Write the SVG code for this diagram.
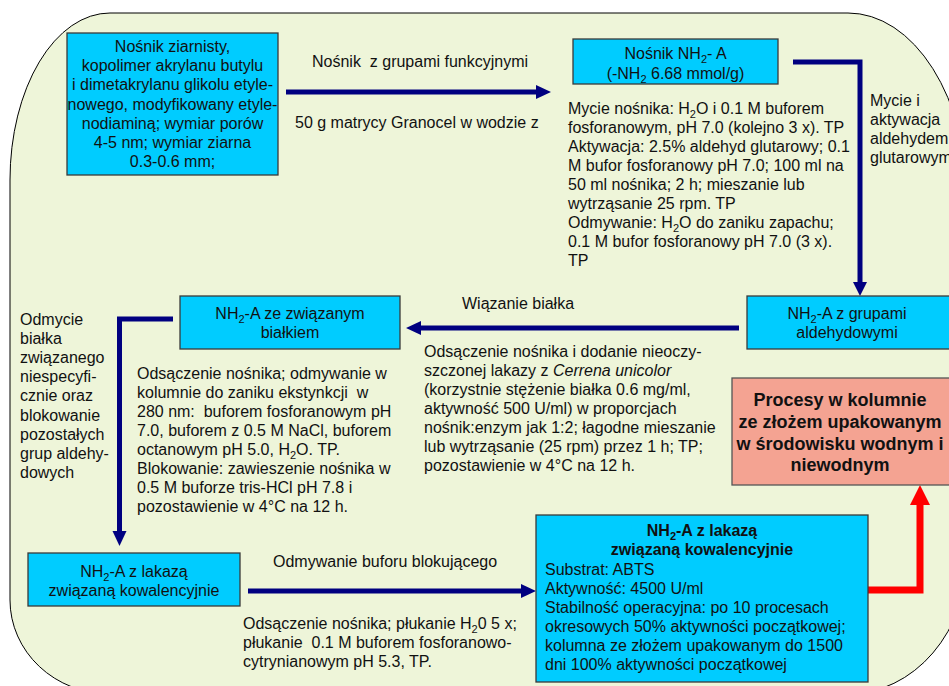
<svg xmlns="http://www.w3.org/2000/svg" width="949" height="686" viewBox="0 0 949 686">
  <style>
    text { font-family: "Liberation Sans", Arial, sans-serif; font-size: 16px; fill: #111; white-space: pre; }
    .c { text-anchor: middle; }
    .b { font-weight: bold; }
    .big { font-size: 18px; }
    .sub { font-size: 11px; }
    .box { fill: #00CCFF; stroke: #3a3a3a; stroke-width: 1.3; }
    .pink { fill: #F4A392; stroke: #555; stroke-width: 1.3; }
    .nav { stroke: #000080; stroke-width: 5; fill: none; stroke-linejoin: miter; }
    .navhead { fill: #000080; }
    .red { stroke: #FF0000; stroke-width: 7; fill: none; stroke-linejoin: miter; }
    .redhead { fill: #FF0000; }
  </style>

  <rect width="949" height="686" fill="#ffffff"/>
  <!-- rounded panel behind the flow -->
  <path d="M110,13 H848 A120,190 0 0 1 968,203 V554 A120,140 0 0 1 848,694 H110 A100,94 0 0 1 10,600 V180 A100,167 0 0 1 110,13 Z" fill="#EEF5D9" stroke="#000" stroke-width="1"/>

  <!-- connectors -->
  <g id="connectors">
    <path class="nav" d="M286,92 H537"/>
    <polygon class="navhead" points="536,85 551,92 536,99"/>

    <path class="nav" d="M793,62 H860 V283"/>
    <polygon class="navhead" points="853,282 867,282 860,296"/>

    <path class="nav" d="M739,328 H420"/>
    <polygon class="navhead" points="421,321 406,328 421,335"/>

    <path class="nav" d="M173,319 H119.5 V532"/>
    <polygon class="navhead" points="112.5,531 126.5,531 119.5,546"/>

    <path class="nav" d="M248,591 H522"/>
    <polygon class="navhead" points="521,584 536,591 521,598"/>

    <path class="red" d="M868,590 H920 V504"/>
    <polygon class="redhead" points="910,505 930,505 920,485"/>
  </g>

  <!-- edge labels -->
  <g id="labels">
    <text x="312" y="67">Nośnik  z grupami funkcyjnymi</text>
    <text x="295" y="128">50 g matrycy Granocel w wodzie z</text>

    <text x="568" y="113.5">Mycie nośnika: H<tspan class="sub" dy="4">2</tspan><tspan dy="-4">O i 0.1 M buforem</tspan></text>
    <text x="568" y="132.6">fosforanowym, pH 7.0 (kolejno 3 x). TP</text>
    <text x="568" y="151.7">Aktywacja: 2.5% aldehyd glutarowy; 0.1</text>
    <text x="568" y="170.8">M bufor fosforanowy pH 7.0; 100 ml na</text>
    <text x="568" y="189.9">50 ml nośnika; 2 h; mieszanie lub</text>
    <text x="568" y="209">wytrząsanie 25 rpm. TP</text>
    <text x="568" y="228.1">Odmywanie: H<tspan class="sub" dy="4">2</tspan><tspan dy="-4">O do zaniku zapachu;</tspan></text>
    <text x="568" y="247.2">0.1 M bufor fosforanowy pH 7.0 (3 x).</text>
    <text x="568" y="266.3">TP</text>

    <text x="870" y="105.5">Mycie i</text>
    <text x="870" y="124.5">aktywacja</text>
    <text x="870" y="143.5">aldehydem</text>
    <text x="870" y="162.5">glutarowym</text>

    <text x="462" y="309">Wiązanie białka</text>
    <text x="424" y="356.5">Odsączenie nośnika i dodanie nieoczy-</text>
    <text x="424" y="375.6">szczonej lakazy z <tspan font-style="italic">Cerrena unicolor</tspan></text>
    <text x="424" y="394.7">(korzystnie stężenie białka 0.6 mg/ml,</text>
    <text x="424" y="413.8">aktywność 500 U/ml) w proporcjach</text>
    <text x="424" y="432.9">nośnik:enzym jak 1:2; łagodne mieszanie</text>
    <text x="424" y="452">lub wytrząsanie (25 rpm) przez 1 h; TP;</text>
    <text x="424" y="471.1">pozostawienie w 4°C na 12 h.</text>

    <text x="20" y="324.5">Odmycie</text>
    <text x="20" y="343.7">białka</text>
    <text x="20" y="362.9">związanego</text>
    <text x="20" y="382.1">niespecyfi-</text>
    <text x="20" y="401.3">cznie oraz</text>
    <text x="20" y="420.5">blokowanie</text>
    <text x="20" y="439.7">pozostałych</text>
    <text x="20" y="458.9">grup aldehy-</text>
    <text x="20" y="478.1">dowych</text>

    <text x="137" y="378.5">Odsączenie nośnika; odmywanie w</text>
    <text x="137" y="397.6">kolumnie do zaniku ekstynkcji  w</text>
    <text x="137" y="416.7">280 nm:  buforem fosforanowym pH</text>
    <text x="137" y="435.8">7.0, buforem z 0.5 M NaCl, buforem</text>
    <text x="137" y="454.9">octanowym pH 5.0, H<tspan class="sub" dy="4">2</tspan><tspan dy="-4">O. TP.</tspan></text>
    <text x="137" y="474">Blokowanie: zawieszenie nośnika w</text>
    <text x="137" y="493.1">0.5 M buforze tris-HCl pH 7.8 i</text>
    <text x="137" y="512.2">pozostawienie w 4°C na 12 h.</text>

    <text x="273" y="566.5">Odmywanie buforu blokującego</text>
    <text x="243" y="629">Odsączenie nośnika; płukanie H<tspan class="sub" dy="4">2</tspan><tspan dy="-4">0 5 x;</tspan></text>
    <text x="243" y="648">płukanie  0.1 M buforem fosforanowo-</text>
    <text x="243" y="667">cytrynianowym pH 5.3, TP.</text>
  </g>

  <!-- nodes -->
  <g id="node-carrier">
    <rect class="box" x="67" y="33" width="211" height="142"/>
    <text class="c" x="172.5" y="52">Nośnik ziarnisty,</text>
    <text class="c" x="172.5" y="71.2">kopolimer akrylanu butylu</text>
    <text class="c" x="172.5" y="90.4">i dimetakrylanu glikolu etyle-</text>
    <text class="c" x="172.5" y="109.6">nowego, modyfikowany etyle-</text>
    <text class="c" x="172.5" y="128.8">nodiaminą; wymiar porów</text>
    <text class="c" x="172.5" y="148">4-5 nm; wymiar ziarna</text>
    <text class="c" x="172.5" y="167.2">0.3-0.6 mm;</text>
  </g>

  <g id="node-nh2a">
    <rect class="box" x="573" y="39" width="205" height="45"/>
    <text class="c" x="675.5" y="58.5">Nośnik NH<tspan class="sub" dy="4">2</tspan><tspan dy="-4">- A</tspan></text>
    <text class="c" x="675.5" y="78.5">(-NH<tspan class="sub" dy="4">2</tspan><tspan dy="-4"> 6.68 mmol/g)</tspan></text>
  </g>

  <g id="node-aldehyde">
    <rect class="box" x="747" y="296" width="210" height="53"/>
    <text class="c" x="847" y="318.5">NH<tspan class="sub" dy="4">2</tspan><tspan dy="-4">-A z grupami</tspan></text>
    <text class="c" x="847" y="337.5">aldehydowymi</text>
  </g>

  <g id="node-bound-protein">
    <rect class="box" x="180" y="296" width="220" height="53"/>
    <text class="c" x="290" y="318.5">NH<tspan class="sub" dy="4">2</tspan><tspan dy="-4">-A ze związanym</tspan></text>
    <text class="c" x="290" y="337.5">białkiem</text>
  </g>

  <g id="node-column">
    <rect class="pink" x="732" y="378" width="225" height="107"/>
    <text class="c b big" x="840" y="406">Procesy w kolumnie</text>
    <text class="c b big" x="840" y="428">ze złożem upakowanym</text>
    <text class="c b big" x="840" y="449.5">w środowisku wodnym i</text>
    <text class="c b big" x="840" y="471">niewodnym</text>
  </g>

  <g id="node-laccase">
    <rect class="box" x="28" y="553" width="212" height="53"/>
    <text class="c" x="134" y="577">NH<tspan class="sub" dy="4">2</tspan><tspan dy="-4">-A z lakazą</tspan></text>
    <text class="c" x="134" y="595.5">związaną kowalencyjnie</text>
  </g>

  <g id="node-laccase-final">
    <rect class="box" x="536" y="515" width="332" height="167"/>
    <text class="c b" x="702" y="536" font-size="17">NH<tspan class="sub" dy="4">2</tspan><tspan dy="-4">-A z lakazą</tspan></text>
    <text class="c b" x="702" y="554.5" font-size="17">związaną kowalencyjnie</text>
    <text x="545" y="574.5">Substrat: ABTS</text>
    <text x="545" y="593.5">Aktywność: 4500 U/ml</text>
    <text x="545" y="612.5">Stabilność operacyjna: po 10 procesach</text>
    <text x="545" y="631.5">okresowych 50% aktywności początkowej;</text>
    <text x="545" y="650.5">kolumna ze złożem upakowanym do 1500</text>
    <text x="545" y="670">dni 100% aktywności początkowej</text>
  </g>
</svg>
